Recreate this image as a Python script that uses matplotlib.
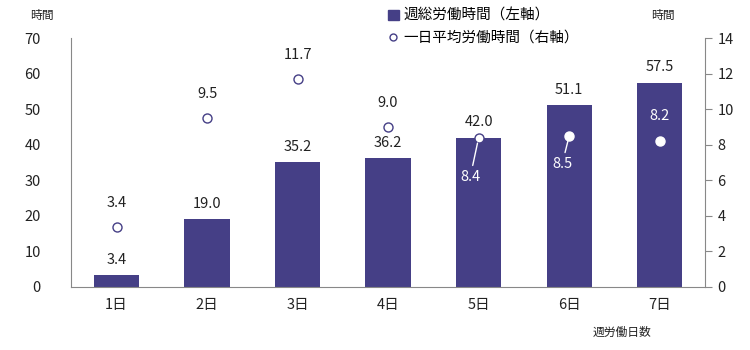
import matplotlib
matplotlib.use("Agg")
import matplotlib.pyplot as plt
from matplotlib.lines import Line2D
from matplotlib.patches import Patch

plt.rcParams['font.family'] = ['Noto Sans CJK JP', 'DejaVu Sans']

categories = ["1日", "2日", "3日", "4日", "5日", "6日", "7日"]
weekly_hours = [3.4, 19.0, 35.2, 36.2, 42.0, 51.1, 57.5]
daily_hours = [3.4, 9.5, 11.7, 9.0, 8.4, 8.5, 8.2]
left_ticks = [0, 10, 20, 30, 40, 50, 60, 70]
right_ticks = [0, 2, 4, 6, 8, 10, 12, 14]

bar_color = "#453f86"
axis_color = "#888888"
text_color = "#222222"

fig = plt.figure(figsize=(7.5, 3.5), dpi=100)
ax = fig.add_axes([0.095, 0.18, 0.845, 0.711])
ax2 = ax.twinx()

x = list(range(len(categories)))
ax.bar(x, weekly_hours, width=0.5, color=bar_color, zorder=2)
ax.set_xlim(-0.5, len(categories) - 0.5)
ax.set_ylim(0, 70)
ax.set_yticks(left_ticks)
ax.set_xticks(x)
ax.set_xticklabels(categories)

ax2.set_ylim(0, 14)
ax2.set_yticks(right_ticks)

# daily average markers: outlined on white background, filled white inside bars
for i, v in enumerate(daily_hours):
    inside = i >= 5
    ax2.plot(i, v, marker='o', markersize=6.5, markerfacecolor='white',
             markeredgecolor=('white' if inside else bar_color),
             markeredgewidth=1.0, linestyle='none', zorder=5)

ax.spines['top'].set_visible(False)
ax.spines['right'].set_visible(False)
ax2.spines['left'].set_visible(False)
ax2.spines['top'].set_visible(False)
ax2.spines['bottom'].set_visible(False)
ax.spines['left'].set_color(axis_color)
ax.spines['bottom'].set_color(axis_color)
ax2.spines['right'].set_color(axis_color)

ax.tick_params(axis='y', length=0, labelsize=10.5, colors=text_color, pad=22)
ax.tick_params(axis='x', length=0, labelsize=10.5, colors=text_color, pad=8)
ax2.tick_params(axis='y', direction='out', length=5, color=axis_color,
                labelsize=10.5, colors=text_color, pad=4)

# bar value labels
for i, v in enumerate(weekly_hours):
    ax.annotate(f"{v:.1f}", (i, v), xytext=(0, 6), textcoords='offset points',
                ha='center', va='bottom', fontsize=10.5, color=text_color)

# daily value labels
offsets = {4: (-6, -28), 5: (-5, -20)}
for i, v in enumerate(daily_hours):
    if i < 4:
        ax2.annotate(f"{v:.1f}", (i, v), xytext=(0, 12), textcoords='offset points',
                     ha='center', va='bottom', fontsize=10.5, color=text_color)
    elif i in offsets:
        ax2.annotate(f"{v:.1f}", (i, v), xytext=offsets[i], textcoords='offset points',
                     ha='center', va='center', fontsize=10.5, color='white', zorder=6,
                     arrowprops=dict(arrowstyle='-', color='white', lw=1,
                                     shrinkA=1, shrinkB=4))
    else:
        ax2.annotate(f"{v:.1f}", (i, v), xytext=(0, 18), textcoords='offset points',
                     ha='center', va='center', fontsize=10.5, color='white', zorder=6)

# axis unit labels
fig.text(0.04, 0.955, "時間", fontsize=8.5, color=text_color, ha='left', va='center')
fig.text(0.868, 0.955, "時間", fontsize=8.5, color=text_color, ha='left', va='center')
fig.text(0.79, 0.05, "週労働日数", fontsize=8.5, color=text_color, ha='left', va='center')

handles = [
    Patch(facecolor=bar_color, edgecolor=bar_color, label="週総労働時間（左軸）"),
    Line2D([0], [0], marker='o', markersize=5, markerfacecolor='white',
           markeredgecolor=bar_color, linestyle='none', label="一日平均労働時間（右軸）"),
]
fig.legend(handles=handles, loc='upper left', bbox_to_anchor=(0.505, 1.0),
           frameon=False, fontsize=10.5, handlelength=0.8, handletextpad=0.3,
           labelspacing=0.55, borderaxespad=0.2)

fig.savefig("out.png", dpi=100)
